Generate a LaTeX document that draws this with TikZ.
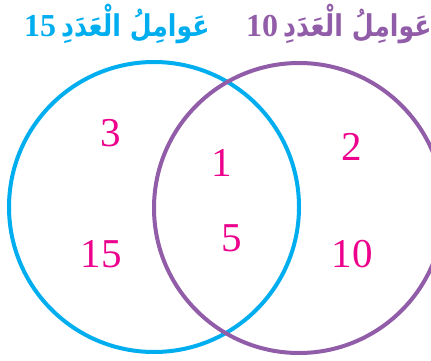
\documentclass[tikz,border=0pt]{standalone}
\usepackage{fontspec}
\setmainfont{Liberation Serif}
\newfontfamily\arabicfont[Script=Arabic]{DejaVu Sans}
\TeXXeTstate=1
\definecolor{vcyan}{RGB}{0,174,239}
\definecolor{vpurple}{RGB}{145,92,168}
\definecolor{vpink}{RGB}{236,0,140}
\newcommand{\vtitle}[1]{{\bfseries\fontsize{32}{32}\selectfont #1}\hspace{5pt}\scalebox{0.84}[1]{\arabicfont\bfseries\fontsize{30}{30}\selectfont\beginR عَوامِلُ الْعَدَدِ\endR}}
\begin{document}
\begin{tikzpicture}[x=1pt,y=-1pt,
  num/.style={text=vpink, font=\fontsize{41}{41}\selectfont, anchor=base, inner sep=0pt},
  ring/.style={circle, draw, line width=4pt, minimum size=290pt, inner sep=0pt},
  settitle/.style={anchor=base west, inner sep=0pt}]
\useasboundingbox (0,0) rectangle (431,361);
\clip (0,0) rectangle (431,361);
\node[ring, draw=vcyan] (A) at (154,207) {};
\node[ring, draw=vpurple] (B) at (299,208) {};
\node[settitle, text=vcyan] (tA) at (24,37) {\vtitle{15}};
\node[settitle, text=vpurple] (tB) at (246,37) {\vtitle{10}};
\node[num] (n3) at (111,146) {3};
\node[num] (n15) at (101,267) {15};
\node[num] (n1) at (222,176) {1};
\node[num] (n5) at (232,251) {5};
\node[num] (n2) at (352,160) {2};
\node[num] (n10) at (352,267) {10};
\end{tikzpicture}
\end{document}
